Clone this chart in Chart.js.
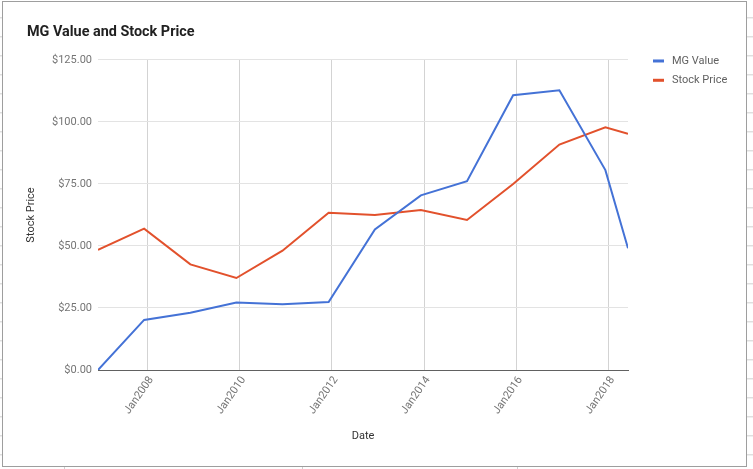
<!DOCTYPE html>
<html>
<head>
<meta charset="utf-8">
<script src="https://cdn.jsdelivr.net/npm/chart.js@4"></script>
<style>
  html, body { margin: 0; padding: 0; background: #fff; }
  #wrap { position: relative; width: 753px; height: 469px; overflow: hidden; }
  canvas { position: absolute; left: 0; top: 0; }
  .frame { position: absolute; left: 2px; top: 1px; width: 743px; height: 464px;
           border: 1px solid #9e9e9e; pointer-events: none; }
  .rowsL { position: absolute; left: 0; top: 0; width: 2px; height: 469px;
           background: repeating-linear-gradient(to bottom, transparent 0 18px, #d0d0d0 18px 19px);
           background-position: 0 -0.7px; }
  .rowsR { position: absolute; left: 747px; top: 0; width: 6px; height: 469px;
           background: repeating-linear-gradient(to bottom, transparent 0 18px, #d0d0d0 18px 19px);
           background-position: 0 -0.7px; }
  .col { position: absolute; top: 466px; width: 1px; height: 3px; background: #d0d0d0; }
</style>
</head>
<body>
<div id="wrap">
  <canvas id="myChart" width="753" height="469"></canvas>
  <div class="rowsL"></div>
  <div class="rowsR"></div>
  <div class="col" style="left:64px"></div>
  <div class="col" style="left:302px"></div>
  <div class="col" style="left:517px"></div>
  <div class="frame"></div>
</div>
<script>
// dates of each observation
var dates = ['2006-12-06', '2007-12-06', '2008-12-06', '2009-12-06', '2010-12-06', '2011-12-06',
             '2012-12-06', '2013-12-06', '2014-12-06', '2015-12-06', '2016-12-06', '2017-12-06', '2018-06-03'];
var mgValue = [0, 20.2, 23.1, 27.2, 26.5, 27.4, 56.7, 70.4, 76.1, 110.8, 112.8, 80.6, 49.1];
var stockPrice = [48.4, 57.0, 42.6, 37.1, 48.1, 63.4, 62.5, 64.5, 60.5, 75.0, 90.9, 97.9, 95.2];
var tickYears = [2008, 2010, 2012, 2014, 2016, 2018];

function toYear(s) {
    var d = new Date(s + 'T00:00:00Z');
    var start = Date.UTC(d.getUTCFullYear(), 0, 1);
    return d.getUTCFullYear() + (d.getTime() - start) / (365 * 86400000);
}

function toPoints(vals) {
    return vals.map(function (v, i) { return { x: toYear(dates[i]), y: v }; });
}

var sideLegend = {
    id: 'sideLegend',
    afterDraw: function (chart) {
        var ctx = chart.ctx;
        var area = chart.chartArea;
        ctx.save();
        ctx.font = '11px Roboto';
        ctx.textBaseline = 'middle';
        chart.data.datasets.forEach(function (ds, i) {
            var y = area.top + 1 + i * 19.3;
            ctx.fillStyle = ds.borderColor;
            ctx.fillRect(area.right + 25, y - 1.5, 11, 3);
            ctx.fillStyle = '#616161';
            ctx.fillText(ds.label, area.right + 44, y);
        });
        ctx.restore();
    }
};

var ctx = document.getElementById('myChart').getContext('2d');
var myChart = new Chart(ctx, {
    type: 'line',
    data: {
        datasets: [{
            label: 'MG Value',
            data: toPoints(mgValue),
            borderColor: '#4472d6',
            backgroundColor: '#4472d6',
            borderWidth: 2,
            pointRadius: 0,
            tension: 0,
            fill: false
        }, {
            label: 'Stock Price',
            data: toPoints(stockPrice),
            borderColor: '#e2512c',
            backgroundColor: '#e2512c',
            borderWidth: 2,
            pointRadius: 0,
            tension: 0,
            fill: false
        }]
    },
    options: {
        responsive: false,
        animation: false,
        layout: { padding: { left: 27, right: 125, top: 0, bottom: 0 } },
        plugins: {
            legend: { display: false },
            tooltip: { enabled: false },
            title: {
                display: true,
                text: 'MG Value and Stock Price',
                align: 'start',
                color: '#212121',
                font: { family: 'Roboto', size: 14.4, weight: 'bold' },
                padding: { top: 24, bottom: 18.7 }
            }
        },
        scales: {
            x: {
                type: 'linear',
                min: toYear(dates[0]),
                max: toYear(dates[dates.length - 1]),
                afterBuildTicks: function (scale) {
                    scale.ticks = tickYears.map(function (v) { return { value: v }; });
                },
                afterFit: function (scale) { scale.height = 99; },
                ticks: {
                    autoSkip: false,
                    minRotation: 55,
                    maxRotation: 55,
                    padding: 4,
                    labelOffset: 4,
                    color: '#757575',
                    font: { family: 'Roboto', size: 11 },
                    callback: function (v) { return 'Jan' + v; }
                },
                grid: { color: '#d3d3d3', drawTicks: false },
                border: { color: '#616161', width: 1 },
                title: {
                    display: true,
                    text: 'Date',
                    color: '#333',
                    font: { family: 'Roboto', size: 11 },
                    padding: { top: 0, bottom: 26.4 }
                }
            },
            y: {
                min: 0,
                max: 125,
                afterFit: function (scale) { scale.width = 71; },
                ticks: {
                    stepSize: 25,
                    padding: 6,
                    color: '#757575',
                    font: { family: 'Roboto', size: 11 },
                    callback: function (v) { return '$' + v.toFixed(2); }
                },
                grid: {
                    color: function (c) { return c.tick && c.tick.value === 0 ? '#616161' : '#e3e3e3'; },
                    drawTicks: false
                },
                border: { display: false },
                title: {
                    display: true,
                    text: 'Stock Price',
                    color: '#333',
                    font: { family: 'Roboto', size: 11 },
                    padding: { top: -2.6, bottom: 0 }
                }
            }
        }
    },
    plugins: [sideLegend]
});
</script>
</body>
</html>
